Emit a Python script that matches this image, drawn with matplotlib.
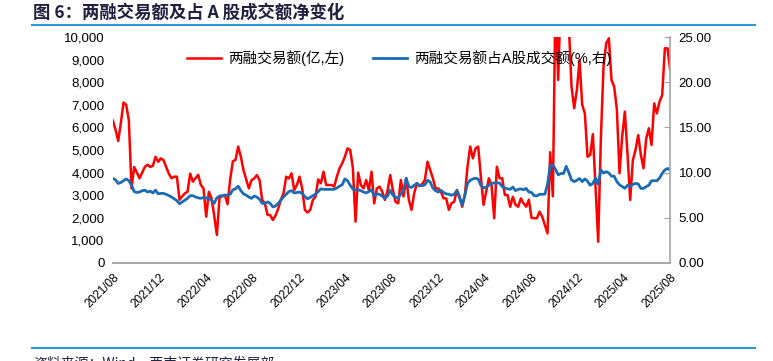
import matplotlib.pyplot as plt
from matplotlib.lines import Line2D
from matplotlib.ticker import FuncFormatter, MultipleLocator
import numpy as np

plt.rcParams['font.family'] = ['Liberation Sans', 'Noto Sans CJK SC', 'DejaVu Sans']
plt.rcParams['axes.unicode_minus'] = False

# ---- data (weekly) ----
tick_labels = ['2021/08', '2021/12', '2022/04', '2022/08', '2022/12', '2023/04', '2023/08',
               '2023/12', '2024/04', '2024/08', '2024/12', '2025/04', '2025/08']

# 两融交易额 (亿元, left axis); values above 10000 are cut off by the axis
margin_value = [
    6300, 5900, 5400, 6200, 7100, 7000, 6300, 3300, 4250, 4000,
    3750, 4000, 4250, 4350, 4250, 4300, 4700, 4480, 4630, 4550,
    4250, 3950, 3750, 3820, 3820, 2800, 2950, 3080, 3150, 3950,
    3600, 3750, 3900, 3450, 3300, 2050, 3150, 2860, 2100, 1240,
    2900, 2950, 3010, 2600, 3700, 4500, 4560, 5150, 4700, 4100,
    3700, 3300, 3670, 3740, 3890, 3670, 2790, 2640, 2130, 2120,
    1900, 2100, 2400, 2800, 3080, 3820, 3740, 3970, 3230, 3450,
    3820, 3300, 2350, 2230, 2350, 2790, 2930, 3700, 3530, 4040,
    3450, 3450, 3450, 3380, 3820, 4190, 4410, 4700, 5070, 5000,
    4200, 1830, 4000, 3450, 3300, 3670, 3230, 4040, 2640, 3300,
    3380, 3160, 2790, 3200, 3890, 3230, 2710, 2640, 3670, 2940,
    3750, 2790, 2350, 3080, 3530, 3400, 3500, 3670, 4480, 4110,
    3750, 3300, 3300, 3160, 2860, 2860, 2350, 2640, 2710, 3230,
    2940, 2490, 3000, 4260, 5150, 4630, 5070, 5150, 3820, 2570,
    3160, 3750, 3450, 1980, 4260, 3750, 3750, 3010, 3010, 2490,
    2930, 2570, 2490, 2860, 2640, 2490, 2800, 2000, 1980, 1980,
    2270, 2050, 1680, 1310, 4900, 2950, 12000, 8100, 12000, 12000,
    12000, 10500, 7800, 6850, 7650, 8980, 7000, 6620, 4700, 4780,
    5700, 3380, 940, 5500, 8690, 9720, 9940, 8090, 7800, 6800,
    3970, 5600, 6700, 4800, 2790, 4550, 5000, 5660, 4780, 4190,
    5500, 5960, 5220, 7060, 6620, 7140, 7430, 9500, 9500, 8540,
]

# 两融交易额占A股成交额 (%, right axis)
margin_share = [
    9.35, 9.2, 8.8, 8.9, 9.1, 9.3, 9.1, 8.6, 7.9, 7.8,
    7.85, 8.0, 8.05, 7.85, 7.95, 7.75, 8.05, 7.65, 7.7, 7.7,
    7.6, 7.45, 7.3, 7.1, 6.9, 6.55, 6.75, 6.95, 7.15, 7.45,
    7.45, 7.3, 7.2, 7.15, 7.25, 7.2, 7.1, 6.95, 6.6, 7.2,
    7.4, 7.45, 7.5, 7.5, 7.6, 8.1, 8.2, 8.5, 8.0, 7.65,
    7.5, 7.3, 7.15, 7.4, 7.3, 7.05, 6.6, 6.6, 6.75, 6.6,
    6.2, 6.3, 6.6, 6.95, 7.3, 7.6, 7.9, 8.0, 7.75, 7.8,
    7.85, 7.7, 7.35, 7.1, 7.25, 7.45, 7.6, 7.9, 8.2, 8.15,
    8.15, 8.15, 8.15, 8.15, 8.3, 8.5, 8.65, 9.3, 9.1, 8.6,
    8.2, 8.1, 8.1, 8.0, 7.85, 7.75, 7.9, 8.1, 7.4, 7.65,
    7.6, 7.4, 7.15, 7.4, 8.05, 7.5, 7.3, 7.15, 7.65, 8.05,
    9.35, 8.45, 8.35, 8.6, 8.8, 8.6, 8.55, 8.65, 9.15, 8.95,
    8.3, 8.0, 7.85, 8.05, 7.8, 7.65, 7.6, 7.5, 7.6, 8.0,
    7.2, 6.4, 7.5, 8.8, 9.15, 9.3, 9.37, 9.3, 8.6, 8.3,
    8.4, 8.6, 8.8, 8.85, 8.85, 8.85, 8.45, 8.3, 8.2, 8.15,
    8.4, 8.0, 8.15, 8.2, 8.1, 8.25, 7.85, 7.8, 7.45, 7.42,
    7.6, 7.6, 7.6, 8.7, 10.8, 10.85, 10.35, 9.75, 9.9, 9.9,
    10.7, 10.0, 9.2, 9.0, 9.15, 9.35, 9.0, 9.3, 9.05, 8.6,
    8.8, 9.4, 8.7, 10.3, 9.95, 10.1, 9.95, 9.6, 9.6, 9.0,
    8.65, 8.45, 8.26, 8.6, 8.45, 8.7, 8.8, 8.75, 8.25, 8.25,
    8.45, 8.6, 9.1, 9.1, 9.1, 9.4, 9.9, 10.3, 10.45, 10.3,
]

# ---- plot ----
fig = plt.figure(figsize=(7.73, 3.61), dpi=100)
ax = fig.add_axes([0.146, 0.2715, 0.721, 0.626])
x = np.arange(len(margin_value))

l1, = ax.plot(x, margin_value, color='#FF0000', lw=1.8, label='两融交易额(亿,左)')
ax2 = ax.twinx()
l2, = ax2.plot(x, margin_share, color='#1A6BB3', lw=2.0, label='两融交易额占A股成交额(%,右)')

ax.set_xlim(0, len(x) - 1)
ax.set_ylim(0, 10000)
ax2.set_ylim(0, 25)
ax.yaxis.set_major_locator(MultipleLocator(1000))
ax2.yaxis.set_major_locator(MultipleLocator(5))
ax.yaxis.set_major_formatter(FuncFormatter(lambda v, p: f'{v:,.0f}'))
ax2.yaxis.set_major_formatter(FuncFormatter(lambda v, p: f'{v:.2f}'))

ax.set_xticks(np.linspace(0, len(x) - 1, len(tick_labels)))
ax.set_xticklabels(tick_labels, rotation=45, ha='right', va='top', rotation_mode='anchor', fontsize=8.5)
ax.tick_params(axis='x', length=0, pad=6)
ax.tick_params(axis='y', length=0, labelsize=9.5, pad=6)
ax2.tick_params(axis='y', length=4, direction='in', color='#A6A6A6', labelsize=9.5, pad=6)

for a in (ax, ax2):
    for s in ('top', 'left'):
        a.spines[s].set_visible(False)
    a.spines['right'].set_visible(a is ax2)
    a.spines['bottom'].set_color('#A6A6A6')
    a.spines['bottom'].set_linewidth(1.2)
ax2.spines['right'].set_color('#A6A6A6')
ax2.spines['right'].set_linewidth(1.2)

ax2.legend([l1, l2], [l1.get_label(), l2.get_label()], loc='upper left',
           bbox_to_anchor=(0.11, 1.0), ncol=2, frameon=False, fontsize=10.5,
           handlelength=2.3, columnspacing=2.0, handletextpad=0.5)

# title, rules and source
fig.text(0.043, 0.965, '图 6：两融交易额及占 A 股成交额净变化', fontsize=12.5, fontweight='bold',
         color='#1F2040', va='center', family=['Noto Sans CJK SC', 'DejaVu Sans'])
fig.add_artist(Line2D([0.042, 0.977], [0.931, 0.931], transform=fig.transFigure, color='#2E96D6', lw=1.5))
fig.add_artist(Line2D([0.042, 0.977], [0.036, 0.036], transform=fig.transFigure, color='#2E96D6', lw=1.5))
fig.text(0.043, 0.014, '资料来源：Wind，西南证券研究发展部', fontsize=10, color='#1F2040',
         va='top', family=['Noto Sans CJK SC', 'DejaVu Sans'])

fig.savefig('out.png', dpi=100)
